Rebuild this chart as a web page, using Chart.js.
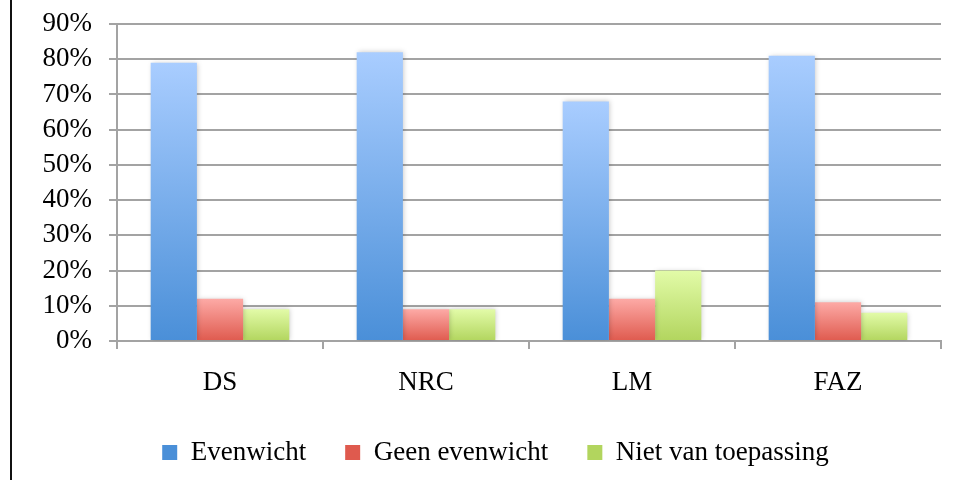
<!DOCTYPE html>
<html>
<head>
<meta charset="utf-8">
<script src="https://cdn.jsdelivr.net/npm/chart.js@4"></script>
<style>
  html, body { margin: 0; padding: 0; background: #fff; }
  #wrap { width: 960px; height: 480px; }
</style>
</head>
<body>
<div id="wrap"><canvas id="barChart" width="960" height="480"></canvas></div>
<script>
var categories = ["DS", "NRC", "LM", "FAZ"];
var seriesNames = ["Evenwicht", "Geen evenwicht", "Niet van toepassing"];
var evenwicht = [79, 82, 68, 81];
var geenEvenwicht = [12, 9, 12, 11];
var nietVanToepassing = [9, 9, 20, 8];
var yTicks = [0, 10, 20, 30, 40, 50, 60, 70, 80, 90];

var fontFam = "'Liberation Serif', 'Times New Roman', serif";
var gridCol = "#a3a3a3";

// gradient per bar, light on top, darker at the base
function barGradient(top, bottom, mid) {
    return function (c) {
        var chart = c.chart;
        if (c.type !== "data" || !chart.chartArea) return mid;
        var y = chart.scales.y;
        var y0 = y.getPixelForValue(c.raw);
        var y1 = y.getPixelForValue(0);
        if (!isFinite(y0) || !isFinite(y1) || y0 === y1) return mid;
        var g = chart.ctx.createLinearGradient(0, y0, 0, y1);
        g.addColorStop(0, top);
        g.addColorStop(1, bottom);
        return g;
    };
}

var frameAndShadow = {
    id: "frameAndShadow",
    afterLayout: function (chart) {
        // legend sits a bit right of the canvas middle in the original
        chart.legend.left += 25;
        chart.legend.right += 25;
    },
    beforeDatasetsDraw: function (chart) {
        var ctx = chart.ctx;
        ctx.save();
        ctx.shadowColor = "rgba(0,0,0,0.22)";
        ctx.shadowBlur = 5;
        ctx.shadowOffsetX = 1;
        ctx.shadowOffsetY = 0;
    },
    afterDatasetsDraw: function (chart) {
        chart.ctx.restore();
    },
    afterDraw: function (chart) {
        var ctx = chart.ctx;
        ctx.save();
        ctx.strokeStyle = "#111";
        ctx.lineWidth = 2;
        ctx.beginPath();
        ctx.moveTo(11, 0);
        ctx.lineTo(11, 480);
        ctx.stroke();
        ctx.restore();
    }
};

var barData = {
    labels: categories,
    datasets: [{
        label: seriesNames[0],
        data: evenwicht,
        backgroundColor: barGradient("#a9cdff", "#4a8fd8", "#78acec")
    }, {
        label: seriesNames[1],
        data: geenEvenwicht,
        backgroundColor: barGradient("#fdaaa6", "#df5a4e", "#ef8179")
    }, {
        label: seriesNames[2],
        data: nietVanToepassing,
        backgroundColor: barGradient("#e2fba8", "#b2d55e", "#c9e782")
    }]
};

var barOptions = {
    responsive: false,
    animation: false,
    layout: { padding: { left: 0, right: 19, top: 24, bottom: 4 } },
    datasets: {
        bar: { categoryPercentage: 0.673, barPercentage: 1, borderWidth: 0 }
    },
    scales: {
        x: {
            afterFit: function (s) { s.height = 59; },
            grid: { offset: true, drawOnChartArea: false, drawTicks: true, tickLength: 8, color: gridCol, lineWidth: 2 },
            border: { display: true, color: gridCol, width: 2 },
            ticks: { font: { family: fontFam, size: 27 }, color: "#000", padding: 18 }
        },
        y: {
            min: 0,
            max: 90,
            afterFit: function (s) {
                s.width = 117;
                s.paddingTop = 0;
                s.paddingBottom = 0;
            },
            afterBuildTicks: function (s) { s.ticks = yTicks.map(function (v) { return { value: v }; }); },
            grid: { color: gridCol, lineWidth: 2, tickLength: 8 },
            border: { display: true, color: gridCol, width: 2 },
            ticks: {
                font: { family: fontFam, size: 27 },
                color: "#000",
                padding: 17,
                autoSkip: false,
                callback: function (v) { return v + "%"; }
            }
        }
    },
    plugins: {
        tooltip: { enabled: false },
        legend: {
            position: "bottom",
            labels: {
                font: { family: fontFam, size: 27 },
                color: "#000",
                boxWidth: 15,
                boxHeight: 15,
                padding: 39
            }
        }
    }
};

var ctx = document.getElementById("barChart").getContext("2d");
new Chart(ctx, { type: "bar", data: barData, options: barOptions, plugins: [frameAndShadow] });
</script>
</body>
</html>
